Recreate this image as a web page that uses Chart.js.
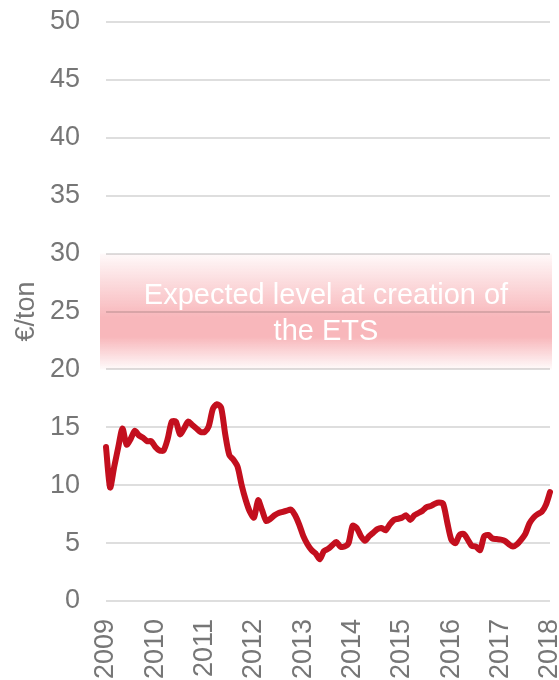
<!DOCTYPE html>
<html>
<head>
<meta charset="utf-8">
<script src="https://cdn.jsdelivr.net/npm/chart.js@4.4.1/dist/chart.umd.min.js"></script>
<style>
  html, body { margin: 0; padding: 0; background: #fff; }
  #wrap { width: 559px; height: 680px; position: relative; }
</style>
</head>
<body>
<div id="wrap"><canvas id="etsChart"></canvas></div>
<script>
// ===== Data =====
const years = ['2009', '2010', '2011', '2012', '2013', '2014', '2015', '2016', '2017', '2018'];

// monthly EUA price, Jan 2009 .. Jan 2018 (€/ton)
const prices = [
  13.3, 9.8, 11.6, 13.3, 14.9, 13.5, 14.0, 14.7, 14.3, 14.1, 13.8, 13.8,   // 2009
  13.3, 13.0, 13.0, 14.0, 15.5, 15.5, 14.4, 14.9, 15.5, 15.2, 14.9, 14.6,  // 2010
  14.6, 15.1, 16.6, 17.0, 16.7, 14.4, 12.6, 12.2, 11.6, 10.0, 8.7, 7.7,    // 2011
  7.2, 8.7, 7.8, 6.9, 7.1, 7.4, 7.6, 7.7, 7.8, 7.9, 7.4, 6.6,              // 2012
  5.6, 4.9, 4.4, 4.1, 3.6, 4.3, 4.5, 4.8, 5.1, 4.7, 4.7, 5.0,              // 2013
  6.5, 6.3, 5.6, 5.2, 5.6, 5.9, 6.2, 6.3, 6.1, 6.6, 7.0, 7.1,              // 2014
  7.2, 7.4, 7.0, 7.4, 7.6, 7.8, 8.1, 8.2, 8.4, 8.5, 8.4, 6.8,              // 2015
  5.3, 5.0, 5.7, 5.8, 5.3, 4.75, 4.7, 4.4, 5.6, 5.7, 5.4, 5.35,            // 2016
  5.3, 5.2, 4.9, 4.7, 4.9, 5.3, 5.8, 6.7, 7.2, 7.5, 7.7, 8.3,              // 2017
  9.4                                                                     // Jan 2018
];

const yTicks = [0, 5, 10, 15, 20, 25, 30, 35, 40, 45, 50];
const expectedBand = [20, 30];
const bandText = ['Expected level at creation of', 'the ETS'];

// month labels built from the years
const months = [];
years.forEach(function (y, i) {
  const n = i === years.length - 1 ? 1 : 12;
  for (let m = 1; m <= n; m++) months.push(y + '-' + String(m).padStart(2, '0'));
});

const FONT = "'Liberation Sans', Arial, sans-serif";
const GREY = '#767676';

// ===== Band plugin (drawn under the grid) =====
const bandPlugin = {
  id: 'expectedBand',
  beforeDraw(chart) {
    const { ctx, chartArea, scales } = chart;
    const yTop = scales.y.getPixelForValue(expectedBand[1]);
    const yBot = scales.y.getPixelForValue(expectedBand[0]);
    const left = chartArea.left - 6;
    const right = chartArea.right + 2;
    const g = ctx.createLinearGradient(0, yTop, 0, yBot);
    g.addColorStop(0, 'rgba(248,183,187,0.08)');
    g.addColorStop(0.55, 'rgba(248,183,187,1)');
    g.addColorStop(0.72, 'rgba(248,183,187,1)');
    g.addColorStop(1, 'rgba(248,183,187,0.06)');
    ctx.save();
    ctx.fillStyle = g;
    ctx.fillRect(left, yTop, right - left, yBot - yTop);
    ctx.restore();
  },
  afterDatasetsDraw(chart) {
    const { ctx, chartArea, scales } = chart;
    const yMid = scales.y.getPixelForValue((expectedBand[0] + expectedBand[1]) / 2);
    const cx = (chartArea.left - 6 + chartArea.right + 2) / 2;
    ctx.save();
    ctx.fillStyle = '#ffffff';
    ctx.font = '29px ' + FONT;
    ctx.textAlign = 'center';
    ctx.textBaseline = 'alphabetic';
    ctx.fillText(bandText[0], cx, yMid - 8);
    ctx.fillText(bandText[1], cx, yMid + 28);
    ctx.restore();
  }
};

// ===== Line chart =====
new Chart(document.getElementById('etsChart').getContext('2d'), {
  type: 'line',
  data: {
    labels: months,
    datasets: [{
      data: prices,
      borderColor: '#c30f1e',
      borderWidth: 6,
      borderJoinStyle: 'round',
      borderCapStyle: 'round',
      pointRadius: 0,
      tension: 0.25,
      fill: false,
    }]
  },
  options: {
    responsive: true,
    maintainAspectRatio: false,
    animation: false,
    layout: { padding: { top: 22, right: 9, left: 0, bottom: 0 } },
    plugins: {
      legend: { display: false },
      tooltip: { enabled: false }
    },
    scales: {
      x: {
        grid: { display: false, drawTicks: false },
        border: { display: false },
        afterFit: function (scale) {
          scale.height = 79;
          scale.paddingLeft = 0;
          scale.paddingRight = 0;
        },
        ticks: {
          autoSkip: false,
          maxRotation: 90,
          minRotation: 90,
          padding: 18,
          color: GREY,
          font: { family: FONT, size: 27 },
          callback: function (v, i) {
            return i % 12 === 0 ? years[i / 12] : null;
          }
        }
      },
      y: {
        min: 0,
        max: 50,
        afterBuildTicks: function (axis) {
          axis.ticks = yTicks.map(v => ({ value: v }));
        },
        afterFit: function (scale) {
          scale.width = 106;
          scale.paddingTop = 0;
          scale.paddingBottom = 0;
        },
        grid: { color: 'rgba(0,0,0,0.13)', lineWidth: 2, drawTicks: false },
        border: { display: false },
        ticks: {
          padding: 26,
          color: GREY,
          font: { family: FONT, size: 27 }
        },
        title: {
          display: true,
          text: '€/ton',
          color: GREY,
          font: { family: FONT, size: 27 },
          padding: { top: 10, bottom: 0 }
        }
      }
    }
  },
  plugins: [bandPlugin]
});
</script>
</body>
</html>
